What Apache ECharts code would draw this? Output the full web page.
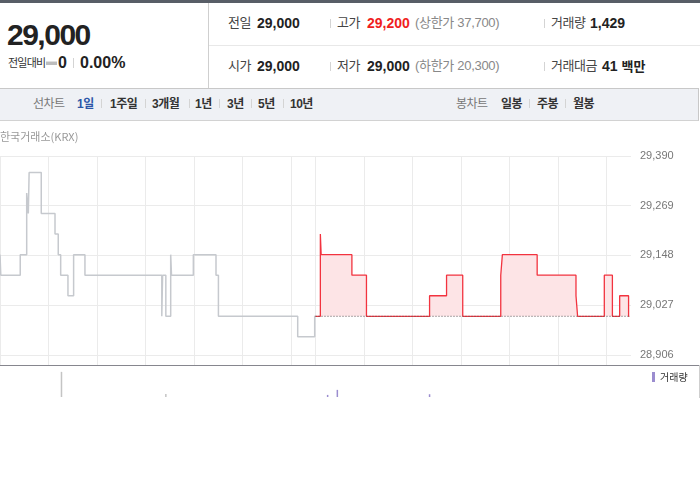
<!DOCTYPE html>
<html>
<head>
<meta charset="utf-8">
<script src="https://cdn.jsdelivr.net/npm/echarts@6/dist/echarts.min.js"></script>
<style>
  body { margin: 0; width: 700px; height: 490px; background: #fff; position: relative; overflow: hidden;
    font-family: "Liberation Sans", "Noto Sans CJK KR", sans-serif; color: #222; }
  .abs { position: absolute; white-space: nowrap; }
  .lbl { font-size: 13px; line-height: 20px; color: #444; letter-spacing: -0.5px; }
  .val { font-size: 14px; line-height: 20px; font-weight: bold; color: #222; }
  .sub { font-size: 13px; line-height: 20px; color: #888; letter-spacing: -0.3px; }
  .r1 { top: 13px; }
  .r2 { top: 56px; }
  .sep { position: absolute; width: 1px; height: 9px; background: #d4d4d4; }
  .tab { font-size: 12px; line-height: 20px; top: 94px; font-weight: bold; color: #333; letter-spacing: -0.5px; }
  .tab.off { font-weight: normal; color: #777; }
  .tab.on { color: #2c56a8; }
  #chart { position: absolute; left: 0; top: 120px; width: 700px; height: 370px; z-index: 2; }
</style>
</head>
<body>
<!-- header -->
<div class="abs" style="left:0;top:0;width:700px;height:3px;background:#585e67"></div>
<div class="abs" style="left:208px;top:3px;width:1px;height:85px;background:#cfcfcf"></div>
<div class="abs" style="left:209px;top:45px;width:491px;height:1px;background:#e8e8e8"></div>

<div class="abs" style="left:7px;top:20px;font:bold 30px/30px 'Liberation Sans',sans-serif;letter-spacing:-1.5px;color:#222">29,000</div>
<div class="abs" style="left:8px;top:56px;font-size:11px;line-height:14px;letter-spacing:-0.8px;color:#333">전일대비</div>
<div class="abs" style="left:46px;top:61px;width:11px;height:3px;background:#bdbdbd;border-top:1px solid #e0e0e0"></div>
<div class="abs" style="left:58px;top:55px;font:bold 16px/16px 'Liberation Sans',sans-serif">0</div>
<div class="sep" style="left:73px;top:58px;height:10px"></div>
<div class="abs" style="left:80px;top:55px;font:bold 16px/16px 'Liberation Sans',sans-serif">0.00%</div>

<div class="abs lbl r1" style="left:228px">전일</div>
<div class="abs val r1" style="left:257px">29,000</div>
<div class="sep" style="left:330px;top:19px"></div>
<div class="abs lbl r1" style="left:337px">고가</div>
<div class="abs val r1" style="left:367px;color:#f01e1e">29,200</div>
<div class="abs sub r1" style="left:415px">(상한가 37,700)</div>
<div class="sep" style="left:544px;top:19px"></div>
<div class="abs lbl r1" style="left:551px">거래량</div>
<div class="abs val r1" style="left:590px">1,429</div>

<div class="abs lbl r2" style="left:228px">시가</div>
<div class="abs val r2" style="left:257px">29,000</div>
<div class="sep" style="left:330px;top:62px"></div>
<div class="abs lbl r2" style="left:337px">저가</div>
<div class="abs val r2" style="left:367px">29,000</div>
<div class="abs sub r2" style="left:415px">(하한가 20,300)</div>
<div class="sep" style="left:544px;top:62px"></div>
<div class="abs lbl r2" style="left:551px">거래대금</div>
<div class="abs val r2" style="left:602px">41 <span style="font-size:13px">백만</span></div>

<!-- tab bar -->
<div class="abs" style="left:0;top:88px;width:699px;height:33px;box-sizing:border-box;background:#eff1f5;border-top:1px solid #c8c8c8;border-bottom:1px solid #d2d2d2;border-right:1px solid #c8c8c8"></div>
<div class="abs tab off" style="left:33px">선차트</div>
<div class="abs tab on" style="left:77px">1일</div>
<div class="sep" style="left:101px;top:99px"></div>
<div class="abs tab" style="left:110px">1주일</div>
<div class="sep" style="left:145px;top:99px"></div>
<div class="abs tab" style="left:152px">3개월</div>
<div class="sep" style="left:189px;top:99px"></div>
<div class="abs tab" style="left:195px">1년</div>
<div class="sep" style="left:219px;top:99px"></div>
<div class="abs tab" style="left:227px">3년</div>
<div class="sep" style="left:251px;top:99px"></div>
<div class="abs tab" style="left:258px">5년</div>
<div class="sep" style="left:283px;top:99px"></div>
<div class="abs tab" style="left:290px">10년</div>
<div class="abs tab off" style="left:456px">봉차트</div>
<div class="abs tab" style="left:501px">일봉</div>
<div class="sep" style="left:529px;top:99px"></div>
<div class="abs tab" style="left:537px">주봉</div>
<div class="sep" style="left:565px;top:99px"></div>
<div class="abs tab" style="left:573px">월봉</div>

<!-- axis divider between price and volume panels, full width -->
<div class="abs" style="left:0;top:365px;width:700px;height:1px;background:#86868e;z-index:1"></div>
<div class="abs" style="left:699px;top:365px;width:1px;height:33px;background:#cfcfcf;z-index:1"></div>

<div id="chart"></div>

<script>
// x = minutes since 09:00 of the previous session; today's session starts at 390
const hourMarks = [0, 60, 120, 180, 240, 300, 360, 390, 450, 510, 570, 630, 690, 750];
const priceTicks = [28906, 29027, 29148, 29269, 29390];
const prevClose = 29000;

// previous session (grey)
const prevMinutes = [0, 1, 25, 33, 35, 36, 51, 68, 72, 75, 84, 91, 105, 200, 201, 205, 211, 212, 239, 267, 270, 368, 389, 390];
const prevPrices = [29150, 29100, 29150, 29300, 29250, 29350, 29250, 29200, 29150, 29100, 29050, 29150, 29100, 29000, 29100, 29000, 29150, 29100, 29150, 29100, 29000, 28950, 29000, 29000];

// today (red)
const todayMinutes = [390, 396, 397, 435, 453, 531, 552, 572, 619, 621, 664, 712, 714, 747, 757, 766, 777, 778];
const todayPrices = [29000, 29200, 29150, 29100, 29000, 29050, 29100, 29000, 29100, 29150, 29100, 29050, 29000, 29100, 29000, 29050, 29000, 29000];

// volume
const volMinutes = [76, 205, 405, 417, 531];
const volValues = [3000, 350, 250, 850, 330];

const zip = (xs, ys) => xs.map((x, i) => [x, ys[i]]);

const chart = echarts.init(document.getElementById('chart'));

const volData = volMinutes.map((m, i) => {
  let item = { value: [m, volValues[i]] };
  if (m < 390) item.itemStyle = { color: '#c4c4c4' };
  return item;
});

chart.setOption({
  animation: false,
  title: {
    text: '한국거래소(KRX)',
    left: 0,
    top: 11,
    padding: 0,
    textStyle: { fontSize: 11, fontWeight: 'normal', color: '#999', fontFamily: 'Noto Sans CJK KR' }
  },
  legend: {
    data: ['거래량'],
    left: 652,
    top: 252,
    padding: 0,
    icon: 'rect',
    itemWidth: 3,
    itemHeight: 10,
    textStyle: { fontSize: 10, color: '#333', fontFamily: 'Noto Sans CJK KR' }
  },
  grid: [
    { left: 0, top: 36, width: 631, height: 209 },
    { left: 0, top: 246, width: 631, height: 31 }
  ],
  xAxis: [{
    type: 'value',
    gridIndex: 0,
    min: 0,
    max: 780,
    axisLine: { show: false },
    axisTick: { show: false, customValues: hourMarks },
    axisLabel: { show: false },
    splitLine: { show: true, lineStyle: { color: '#ebebeb' } }
  }, {
    type: 'value',
    gridIndex: 1,
    min: 0,
    max: 780,
    show: false
  }],
  yAxis: [{
    type: 'value',
    gridIndex: 0,
    position: 'right',
    // axis runs a little below the lowest label
    min: 28881.5,
    max: 29390,
    axisLine: { show: false },
    axisTick: { show: false, customValues: priceTicks },
    axisLabel: {
      customValues: priceTicks,
      margin: 9,
      color: '#777',
      fontSize: 11,
      fontFamily: 'Liberation Sans',
      formatter: v => v.toLocaleString('en-US')
    },
    splitLine: { show: true, lineStyle: { color: '#ebebeb' } }
  }, {
    type: 'value',
    gridIndex: 1,
    min: 0,
    max: 3700,
    show: false
  }],
  series: [{
    name: 'prev',
    type: 'line',
    step: 'end',
    showSymbol: false,
    silent: true,
    data: zip(prevMinutes, prevPrices),
    lineStyle: { color: '#c6c9ce', width: 1.5 }
  }, {
    name: 'today',
    type: 'line',
    step: 'end',
    showSymbol: false,
    silent: true,
    data: zip(todayMinutes, todayPrices),
    lineStyle: { color: '#f2333f', width: 1.3 },
    areaStyle: { origin: prevClose, color: '#fde4e6', opacity: 1 }
  }, {
    name: 'base',
    type: 'line',
    showSymbol: false,
    silent: true,
    z: 3,
    data: [[todayMinutes[0], prevClose], [todayMinutes[todayMinutes.length - 1], prevClose]],
    lineStyle: { color: '#555', width: 1, type: [1, 2] }
  }, {
    name: '거래량',
    type: 'bar',
    xAxisIndex: 1,
    yAxisIndex: 1,
    barWidth: 1.5,
    silent: true,
    itemStyle: { color: '#9b8dcf' },
    data: volData
  }]
});
</script>
</body>
</html>
